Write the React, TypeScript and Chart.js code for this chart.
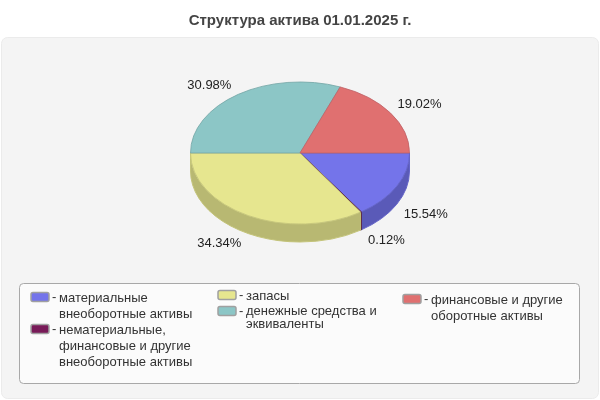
import { useEffect, useRef } from 'react';
import Chart from 'chart.js/auto';

const title = 'Структура актива 01.01.2025 г.';
const categories = [
  'материальные внеоборотные активы',
  'нематериальные, финансовые и другие внеоборотные активы',
  'запасы',
  'денежные средства и эквиваленты',
  'финансовые и другие оборотные активы',
];
const values = [15.54, 0.12, 34.34, 30.98, 19.02];
const colors = ['#7474ea', '#781a58', '#e6e68f', '#8cc6c6', '#e07070'];
const edgeColors = ['#6464c8', '#4a1036', '#c4c47a', '#74a6a6', '#c06266'];
const wallColors = ['#5a5ab8', '#5a1242', '#b8b872', '#6c9a9a', '#b05858'];

// legend rows: x of the swatch, y of the swatch middle, then [text, y] per line
const legendRows: { index: number; x: number; y: number; lines: [string, number][] }[] = [
  { index: 0, x: 31, y: 297, lines: [['материальные', 298], ['внеоборотные активы', 314]] },
  { index: 1, x: 31, y: 329, lines: [['нематериальные,', 330], ['финансовые и другие', 346], ['внеоборотные активы', 362]] },
  { index: 2, x: 218, y: 295, lines: [['запасы', 296]] },
  { index: 3, x: 218, y: 311, lines: [['денежные средства и', 311], ['эквиваленты', 324]] },
  { index: 4, x: 403, y: 299, lines: [['финансовые и другие', 300], ['оборотные активы', 316]] },
];

const RY = 71;
const DEPTH = 18;
const FONT = '13px "Liberation Sans", Arial, sans-serif';

function roundRect(ctx: CanvasRenderingContext2D, x: number, y: number, w: number, h: number, r: number) {
  ctx.beginPath();
  ctx.roundRect(x, y, w, h, r);
}

const panelPlugin = {
  id: 'panel',
  beforeDraw(chart: any) {
    const { ctx } = chart;
    ctx.save();
    roundRect(ctx, 1.5, 37.5, 597, 361, 6);
    ctx.fillStyle = '#f4f4f4';
    ctx.fill();
    ctx.strokeStyle = '#ebebeb';
    ctx.stroke();

    roundRect(ctx, 19.5, 283.5, 560, 100, 4);
    ctx.fillStyle = '#fbfbfb';
    ctx.fill();
    ctx.strokeStyle = '#a8a8a8';
    ctx.stroke();

    ctx.font = FONT;
    ctx.textBaseline = 'middle';
    ctx.textAlign = 'left';
    legendRows.forEach(row => {
      roundRect(ctx, row.x, row.y - 4.5, 18, 9, 2);
      ctx.fillStyle = colors[row.index];
      ctx.fill();
      ctx.strokeStyle = '#a0a0a0';
      ctx.lineWidth = 1.5;
      ctx.stroke();
      ctx.fillStyle = '#333333';
      ctx.fillText('-', row.x + 21, row.y);
      row.lines.forEach(([text, y]) => ctx.fillText(text, row.x + 28, y));
    });
    ctx.restore();
  },
};

// squashes the pie into an ellipse and puts the side wall under it
const tiltPlugin = {
  id: 'tilt',
  beforeDatasetsDraw(chart: any) {
    const { ctx } = chart;
    const arcs = chart.getDatasetMeta(0).data;
    const cx = arcs[0].x;
    const cy = arcs[0].y;
    const rx = arcs[0].outerRadius;
    arcs.forEach((arc: any, i: number) => {
      const a = Math.max(arc.startAngle, 0);
      const b = Math.min(arc.endAngle, Math.PI);
      if (b <= a) return;
      ctx.beginPath();
      ctx.ellipse(cx, cy, rx, RY, 0, a, b);
      ctx.ellipse(cx, cy + DEPTH, rx, RY, 0, b, a, true);
      ctx.closePath();
      ctx.fillStyle = wallColors[i];
      ctx.fill();
      ctx.strokeStyle = edgeColors[i];
      ctx.lineWidth = 1;
      ctx.stroke();
    });
    ctx.save();
    ctx.translate(cx, cy);
    ctx.scale(1, RY / rx);
    ctx.translate(-cx, -cy);
  },
  afterDatasetsDraw(chart: any) {
    const { ctx } = chart;
    ctx.restore();
    const arcs = chart.getDatasetMeta(0).data;
    ctx.save();
    ctx.font = FONT;
    ctx.fillStyle = '#222222';
    ctx.textBaseline = 'middle';
    arcs.forEach((arc: any, i: number) => {
      const mid = (arc.startAngle + arc.endAngle) / 2;
      const px = arc.x + arc.outerRadius * Math.cos(mid);
      const py = arc.y + RY * Math.sin(mid);
      const right = Math.cos(mid) > 0;
      ctx.textAlign = right ? 'left' : 'right';
      ctx.fillText(
        values[i].toFixed(2) + '%',
        px + (right ? 7 : -7),
        py + (Math.sin(mid) > 0 ? 28 : -9),
      );
    });
    ctx.restore();
  },
};

export default function App() {
  const chartRef = useRef<HTMLCanvasElement | null>(null);

  useEffect(() => {
    if (!chartRef.current) return;

    const chart = new Chart(chartRef.current, {
      type: 'pie',
      data: {
        labels: categories,
        datasets: [
          {
            data: values,
            backgroundColor: colors,
            borderColor: edgeColors,
            borderWidth: 1,
          },
        ],
      },
      options: {
        responsive: false,
        animation: false,
        devicePixelRatio: 1,
        rotation: 90,
        layout: { padding: { top: 12, bottom: 137 } },
        plugins: {
          legend: { display: false },
          tooltip: { enabled: false },
          title: {
            display: true,
            text: title,
            color: '#444444',
            padding: { top: 0, bottom: 13 },
            font: { family: '"Liberation Sans", Arial, sans-serif', size: 15, weight: 'bold' },
          },
        },
      },
      plugins: [panelPlugin, tiltPlugin],
    });

    return () => chart.destroy();
  }, []);

  return (
    <div style={{ position: 'absolute', left: 0, top: 0, width: 600, height: 400 }}>
      <canvas ref={chartRef} width={600} height={400} style={{ display: 'block' }}></canvas>
    </div>
  );
}
